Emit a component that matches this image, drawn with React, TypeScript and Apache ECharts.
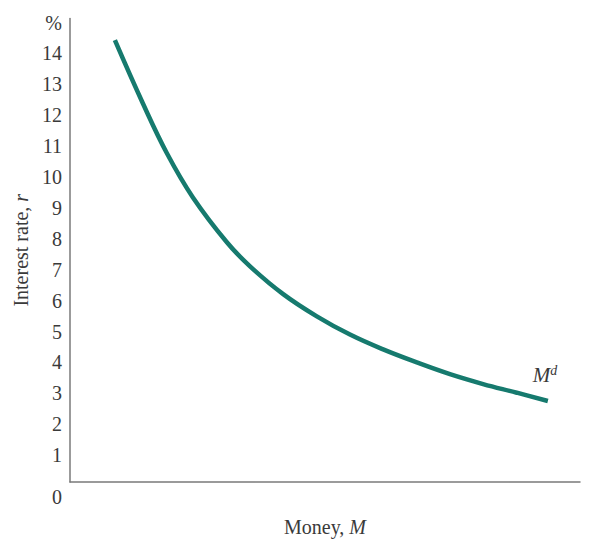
import React, { useEffect, useRef } from "react";
import * as echarts from "echarts";

const moneyValues = [8.8, 14.3, 19.0, 24.1, 30.8, 35.3, 41.8, 48.4, 54.9, 61.4, 68.0, 74.5, 81.0, 87.6, 93.7];
const rateValues = [14.3, 12.25, 10.64, 9.21, 7.75, 6.98, 6.08, 5.36, 4.77, 4.29, 3.87, 3.49, 3.17, 2.89, 2.62];
const curveName = "Md";
const xAxisName = "Money, {i|M}";
const yAxisName = "Interest rate, {i|r}";

const SERIF = "'Liberation Serif', 'DejaVu Serif', serif";
const TEXT = "#3a3a3a";
const FS = 20;

export default function App() {
  const ref = useRef<HTMLDivElement>(null);
  useEffect(() => {
    if (!ref.current) return;
    const chart = echarts.init(ref.current, null, { renderer: "svg" });
    const data = moneyValues.map((m, i) => [m, rateValues[i]]);
    chart.setOption({
      animation: false,
      grid: { left: 70, right: 20, top: 18.5, bottom: 73, containLabel: false },
      xAxis: {
        type: "value",
        min: 0,
        max: 100,
        name: xAxisName,
        nameLocation: "middle",
        nameGap: 35,
        nameTextStyle: {
          fontFamily: SERIF,
          fontSize: FS,
          color: TEXT,
          rich: { i: { fontFamily: SERIF, fontStyle: "italic", fontSize: FS, color: TEXT } },
        },
        axisLine: { show: true, lineStyle: { color: "#7a7a7a", width: 1.5 } },
        axisTick: { show: false },
        axisLabel: { show: false },
        splitLine: { show: false },
      },
      yAxis: {
        type: "value",
        min: 0,
        max: 15,
        interval: 1,
        name: yAxisName,
        nameLocation: "middle",
        nameGap: 37,
        nameRotate: 90,
        nameTextStyle: {
          fontFamily: SERIF,
          fontSize: FS,
          color: TEXT,
          rich: { i: { fontFamily: SERIF, fontStyle: "italic", fontSize: FS, color: TEXT } },
        },
        axisLine: { show: true, lineStyle: { color: "#7a7a7a", width: 1.5 } },
        axisTick: { show: false },
        splitLine: { show: false },
        axisLabel: {
          margin: 8,
          fontFamily: SERIF,
          fontSize: FS,
          color: TEXT,
          padding: [8, 0, 0, 0],
          formatter: (v: number) => (v === 0 ? "{z|0}" : v === 15 ? "%" : String(v)),
          rich: {
            z: { fontFamily: SERIF, fontSize: FS, color: TEXT, padding: [22, 0, 0, 0] },
          },
        },
      },
      series: [
        {
          name: curveName,
          type: "line",
          data,
          smooth: 0.4,
          showSymbol: false,
          symbol: "none",
          lineStyle: { color: "#167a6e", width: 4.5, cap: "butt" },
          itemStyle: { color: "#167a6e" },
          endLabel: {
            show: true,
            offset: [-23, -26],
            formatter: "{m|M}{d|d}",
            rich: {
              m: { fontFamily: SERIF, fontStyle: "italic", fontSize: 21, color: TEXT, lineHeight: 24 },
              d: { fontFamily: SERIF, fontStyle: "italic", fontSize: 14, color: TEXT, verticalAlign: "top", lineHeight: 24 },
            },
          },
        },
      ],
    });
    return () => chart.dispose();
  }, []);
  return <div ref={ref} style={{ width: 600, height: 555, position: "absolute", left: 0, top: 0 }} />;
}
